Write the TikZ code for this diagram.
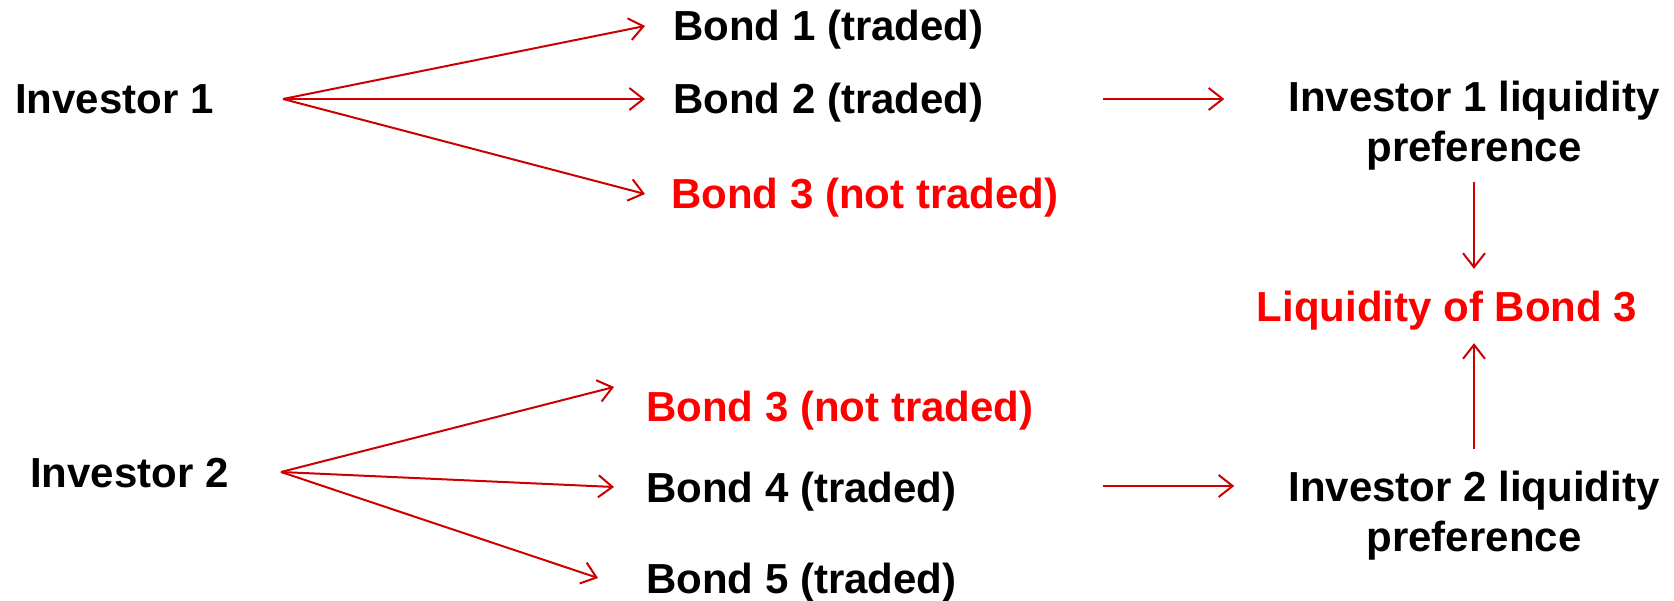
\documentclass[tikz,border=0pt]{standalone}
\usepackage{fontspec}
\setmainfont{Liberation Sans}
\usetikzlibrary{arrows.meta}
\definecolor{lnred}{RGB}{204,0,0}
\definecolor{txred}{RGB}{255,0,0}
\begin{document}
\begin{tikzpicture}[x=1pt,y=-1pt,
  lbl/.style={font=\fontsize{42}{50}\selectfont\bfseries, inner sep=0pt, text height=30pt, text depth=0pt},
  redlbl/.style={lbl, text=txred},
  twolbl/.style={font=\fontsize{42}{50}\selectfont\bfseries, inner sep=0pt, align=center},
  conn/.style={draw=lnred, line width=2pt, -{Straight Barb[length=14pt,width=22pt,line width=2pt]}}]
\useasboundingbox (0,0) rectangle (1674,601);
% nodes
\node[lbl, anchor=west] (inv1) at (15,99) {Investor 1};
\node[lbl, anchor=west] (b1) at (673,26) {Bond 1 (traded)};
\node[lbl, anchor=west] (b2) at (673,99) {Bond 2 (traded)};
\node[redlbl, anchor=west] (b3a) at (671,194) {Bond 3 (not traded)};
\node[twolbl] (il1) at (1474,126) {Investor 1 liquidity\\preference};
\node[redlbl] (liq) at (1447,307) {Liquidity of Bond 3};
\node[lbl, anchor=west] (inv2) at (30,472) {Investor 2};
\node[redlbl, anchor=west] (b3b) at (646,407) {Bond 3 (not traded)};
\node[lbl, anchor=west] (b4) at (646,487) {Bond 4 (traded)};
\node[lbl, anchor=west] (b5) at (646,578) {Bond 5 (traded)};
\node[twolbl] (il2) at (1474,516) {Investor 2 liquidity\\preference};
% fan origins
\coordinate (f1) at (283,99);
\coordinate (f2) at (281,472);
\coordinate (h1) at (1103,99);
\coordinate (h2) at (1103,486);
% connectors
\draw[conn] (f1) -- ([xshift=-28pt]b1.west);
\draw[conn] (f1) -- ([xshift=-28pt]b2.west);
\draw[conn] (f1) -- ([xshift=-26pt]b3a.west);
\draw[conn] (f2) -- ([xshift=-32pt,yshift=20pt]b3b.west);
\draw[conn] (f2) -- ([xshift=-32pt]b4.west);
\draw[conn] (f2) -- ([xshift=-48pt]b5.west);
\draw[conn, shorten >=64pt] (h1) -- (h1 -| il1.west);
\draw[conn, shorten >=54pt] (h2) -- (h2 -| il2.west);
\draw[conn, shorten <=11pt, shorten >=23pt] (il1.south) -- (il1.south |- liq.north);
\draw[conn, shorten <=22pt, shorten >=21pt] (il2.north) -- (il2.north |- liq.south);
\end{tikzpicture}
\end{document}
